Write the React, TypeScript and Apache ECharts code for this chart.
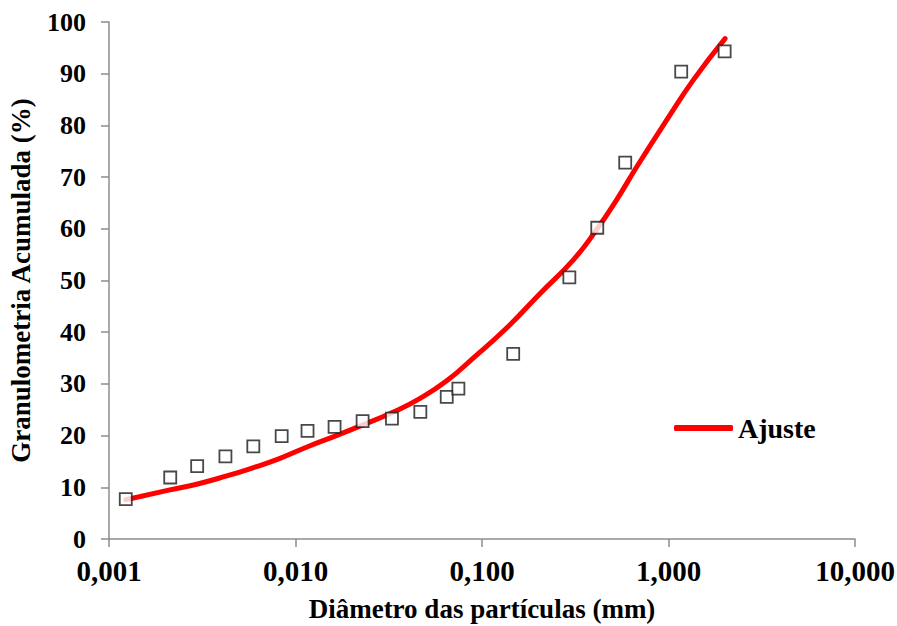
import React, { useEffect, useRef } from "react";
import * as echarts from "echarts";

const pointDiameters = [0.00123, 0.00213, 0.00297, 0.00421, 0.00594, 0.00843, 0.0116, 0.0162, 0.0229, 0.0329, 0.0467, 0.0647, 0.0747, 0.147, 0.294, 0.415, 0.586, 1.17, 2.0];
const pointValues = [7.7, 11.9, 14.1, 16.0, 17.9, 19.9, 20.9, 21.7, 22.8, 23.3, 24.6, 27.5, 29.1, 35.8, 50.6, 60.2, 72.8, 90.4, 94.3];

const fitDiameters = [0.00123, 0.00212, 0.00295, 0.00419, 0.00594, 0.00826, 0.0117, 0.0163, 0.0231, 0.0328, 0.0466, 0.0647, 0.0897, 0.1355, 0.205, 0.309, 0.411, 0.527, 0.676, 0.977, 1.36, 2.01];
const fitValues = [7.6, 9.5, 10.6, 12.1, 13.8, 15.6, 17.9, 19.9, 22.1, 24.4, 27.2, 30.6, 35.0, 40.8, 47.5, 54.0, 59.8, 65.6, 72.0, 81.0, 88.8, 96.8];

const xAxisTitle = "Diâmetro das partículas (mm)";
const yAxisTitle = "Granulometria Acumulada (%)";
const fitName = "Ajuste";

const FONT = "'Liberation Serif', 'Times New Roman', serif";

export default function App() {
  const ref = useRef<HTMLDivElement>(null);
  useEffect(() => {
    if (!ref.current) return;
    const chart = echarts.init(ref.current, undefined, { renderer: "svg" });
    const axisColor = "#8c8c8c";
    chart.setOption({
      animation: false,
      backgroundColor: "#ffffff",
      grid: { left: 109, right: 42, top: 22, bottom: 87, containLabel: false, outerBoundsMode: "none" },
      legend: {
        data: [fitName],
        left: 674,
        top: 414,
        padding: 0,
        icon: "roundRect",
        itemWidth: 59,
        itemHeight: 6,
        textStyle: { fontFamily: FONT, fontWeight: "bold", fontSize: 28, color: "#000" },
      },
      xAxis: {
        type: "log",
        logBase: 10,
        min: 0.001,
        max: 10,
        name: xAxisTitle,
        nameLocation: "middle",
        nameGap: 56,
        nameTextStyle: { fontFamily: FONT, fontWeight: "bold", fontSize: 27, color: "#000" },
        axisLine: { show: true, lineStyle: { color: axisColor, width: 1.5 } },
        axisTick: { show: true, length: 8, lineStyle: { color: axisColor, width: 1.5 } },
        minorTick: { show: false },
        splitLine: { show: false },
        axisLabel: {
          margin: 17,
          fontFamily: FONT,
          fontWeight: "bold",
          fontSize: 29,
          color: "#000",
          formatter: (v: number) => v.toFixed(3).replace(".", ","),
        },
      },
      yAxis: {
        type: "value",
        min: 0,
        max: 100,
        interval: 10,
        name: yAxisTitle,
        nameLocation: "middle",
        nameGap: 75,
        nameTextStyle: { fontFamily: FONT, fontWeight: "bold", fontSize: 27, color: "#000" },
        axisLine: { show: true, lineStyle: { color: axisColor, width: 1.5 } },
        axisTick: { show: true, length: 8, lineStyle: { color: axisColor, width: 1.5 } },
        splitLine: { show: false },
        axisLabel: {
          margin: 23,
          fontFamily: FONT,
          fontWeight: "bold",
          fontSize: 26,
          color: "#000",
        },
      },
      series: [
        {
          name: "Dados",
          type: "scatter",
          symbol: "rect",
          symbolSize: 12,
          itemStyle: { color: "#ffffff", borderColor: "#1a1a1a", borderWidth: 1.8 },
          data: pointDiameters.map((d, i) => [d, pointValues[i]]),
          z: 3,
        },
        {
          name: fitName,
          type: "line",
          smooth: true,
          showSymbol: false,
          symbol: "none",
          lineStyle: { color: "#ff0000", width: 5, cap: "round" },
          itemStyle: { color: "#ff0000" },
          data: fitDiameters.map((d, i) => [d, fitValues[i]]),
          z: 2,
        },
      ],
    });
    return () => chart.dispose();
  }, []);
  return (
    <div
      ref={ref}
      style={{ position: "fixed", left: 0, top: 0, width: 897, height: 626 }}
    />
  );
}
